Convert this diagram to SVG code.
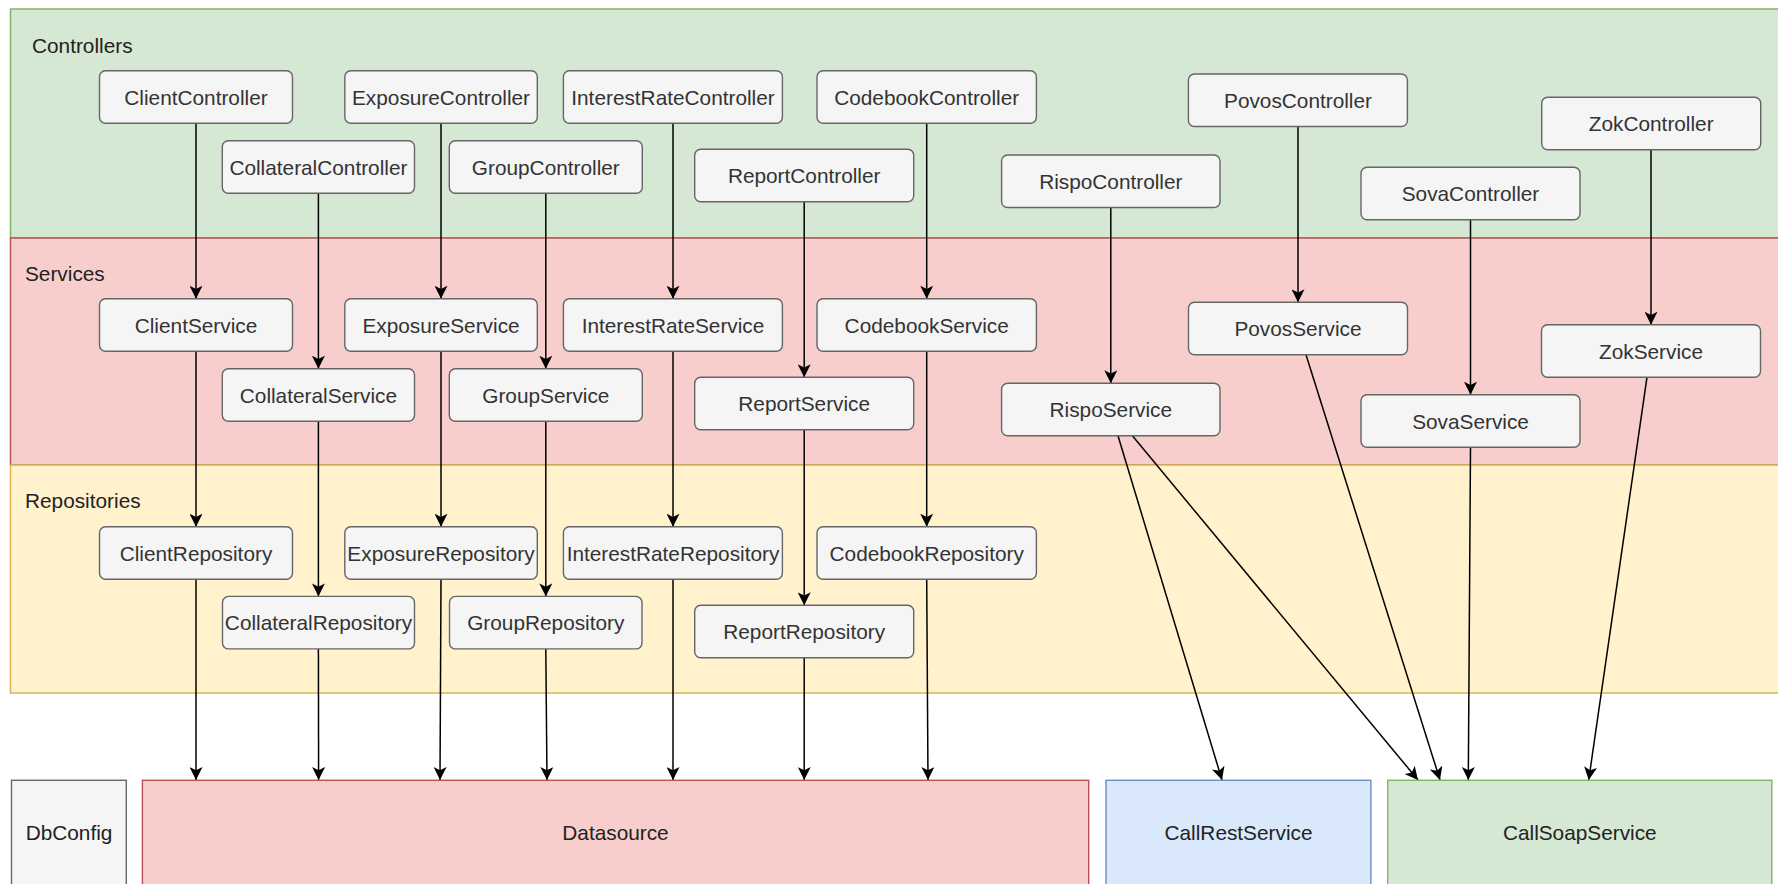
<svg xmlns="http://www.w3.org/2000/svg" width="1778" height="884" viewBox="0 0 1778 884">
<style>
.n{fill:#f5f5f5;stroke:#666666;stroke-width:1.4}
.t{font-family:"Liberation Sans",Arial,sans-serif;font-size:20.8px;fill:#333333;text-anchor:middle;dominant-baseline:central}
.lbl{font-family:"Liberation Sans",Arial,sans-serif;font-size:20.8px;fill:#222222;dominant-baseline:central}
.bt{font-family:"Liberation Sans",Arial,sans-serif;font-size:20.8px;fill:#222222;text-anchor:middle;dominant-baseline:central}
.e{fill:none;stroke:#000000;stroke-width:1.5;marker-end:url(#arr)}
</style>
<defs>
<marker id="arr" markerUnits="userSpaceOnUse" markerWidth="13" markerHeight="13" viewBox="0 0 12 12" refX="12" refY="6" orient="auto">
<path d="M0,0 L12,6 L0,12 L3,6 Z" fill="#000000"/>
</marker>
</defs>
<rect width="1778" height="884" fill="#ffffff"/>
<g id="bands">
<rect x="10.5" y="9" width="1790" height="229" fill="#d5e8d4" stroke="#82b366" stroke-width="1.5"/>
<rect x="10.5" y="238" width="1790" height="227" fill="#f8cecc" stroke="#b85450" stroke-width="1.5"/>
<rect x="10.5" y="465" width="1790" height="228" fill="#fff2cc" stroke="#d6b656" stroke-width="1.5"/>
<text class="lbl" x="32" y="45">Controllers</text>
<text class="lbl" x="25" y="273">Services</text>
<text class="lbl" x="25" y="500">Repositories</text>
</g>
<g id="connectors">
<line class="e" x1="196" y1="123.2" x2="196" y2="298.7"/>
<line class="e" x1="196" y1="351.2" x2="196" y2="526.7"/>
<line class="e" x1="196" y1="579.2" x2="196" y2="780"/>
<line class="e" x1="318.4" y1="193.2" x2="318.4" y2="368.7"/>
<line class="e" x1="318.4" y1="421.2" x2="318.4" y2="596.4"/>
<line class="e" x1="318.4" y1="648.9" x2="318.6" y2="780"/>
<line class="e" x1="441" y1="123.2" x2="441" y2="298.7"/>
<line class="e" x1="441" y1="351.2" x2="441" y2="526.7"/>
<line class="e" x1="441" y1="579.2" x2="440" y2="780"/>
<line class="e" x1="545.8" y1="193.2" x2="545.8" y2="368.7"/>
<line class="e" x1="545.8" y1="421.2" x2="545.8" y2="596.4"/>
<line class="e" x1="545.8" y1="648.9" x2="547" y2="780"/>
<line class="e" x1="673" y1="123.2" x2="673" y2="298.7"/>
<line class="e" x1="673" y1="351.2" x2="673" y2="526.7"/>
<line class="e" x1="673" y1="579.2" x2="673" y2="780"/>
<line class="e" x1="804.2" y1="201.8" x2="804.2" y2="377.3"/>
<line class="e" x1="804.2" y1="429.8" x2="804.2" y2="605.3"/>
<line class="e" x1="804.2" y1="657.8" x2="804.2" y2="780"/>
<line class="e" x1="926.7" y1="123.2" x2="926.7" y2="298.7"/>
<line class="e" x1="926.7" y1="351.2" x2="926.7" y2="526.7"/>
<line class="e" x1="926.7" y1="579.2" x2="928" y2="780"/>
<line class="e" x1="1110.8" y1="207.5" x2="1110.8" y2="383.3"/>
<line class="e" x1="1118" y1="435.8" x2="1222" y2="780"/>
<line class="e" x1="1132.4" y1="435.8" x2="1418" y2="780"/>
<line class="e" x1="1298" y1="126.5" x2="1298" y2="302.3"/>
<line class="e" x1="1306" y1="354.8" x2="1440" y2="780"/>
<line class="e" x1="1470.5" y1="219.8" x2="1470.5" y2="394.7"/>
<line class="e" x1="1470.5" y1="447.2" x2="1468.3" y2="780"/>
<line class="e" x1="1651" y1="149.8" x2="1651" y2="324.7"/>
<line class="e" x1="1647" y1="377.2" x2="1588.7" y2="780"/>
</g>
<g id="ClientController"><rect class="n" x="99.5" y="70.7" width="193" height="52.5" rx="6"/><text class="t" x="196" y="97">ClientController</text></g>
<g id="ExposureController"><rect class="n" x="344.8" y="70.7" width="192.5" height="52.5" rx="6"/><text class="t" x="441" y="97">ExposureController</text></g>
<g id="InterestRateController"><rect class="n" x="563.4" y="70.7" width="219" height="52.5" rx="6"/><text class="t" x="673" y="97">InterestRateController</text></g>
<g id="CodebookController"><rect class="n" x="817" y="70.7" width="219.4" height="52.5" rx="6"/><text class="t" x="926.7" y="97">CodebookController</text></g>
<g id="CollateralController"><rect class="n" x="222.3" y="140.7" width="192.2" height="52.5" rx="6"/><text class="t" x="318.4" y="167">CollateralController</text></g>
<g id="GroupController"><rect class="n" x="449.3" y="140.7" width="193" height="52.5" rx="6"/><text class="t" x="545.8" y="167">GroupController</text></g>
<g id="ReportController"><rect class="n" x="694.7" y="149.3" width="219" height="52.5" rx="6"/><text class="t" x="804.2" y="175.5">ReportController</text></g>
<g id="RispoController"><rect class="n" x="1001.6" y="155" width="218.4" height="52.5" rx="6"/><text class="t" x="1110.8" y="181.3">RispoController</text></g>
<g id="PovosController"><rect class="n" x="1188.4" y="74" width="219" height="52.5" rx="6"/><text class="t" x="1298" y="100.3">PovosController</text></g>
<g id="SovaController"><rect class="n" x="1361" y="167.3" width="219" height="52.5" rx="6"/><text class="t" x="1470.5" y="193.5">SovaController</text></g>
<g id="ZokController"><rect class="n" x="1541.7" y="97.3" width="219" height="52.5" rx="6"/><text class="t" x="1651.2" y="123.5">ZokController</text></g>
<g id="ClientService"><rect class="n" x="99.5" y="298.7" width="193" height="52.5" rx="6"/><text class="t" x="196" y="325">ClientService</text></g>
<g id="ExposureService"><rect class="n" x="344.8" y="298.7" width="192.5" height="52.5" rx="6"/><text class="t" x="441" y="325">ExposureService</text></g>
<g id="InterestRateService"><rect class="n" x="563.4" y="298.7" width="219" height="52.5" rx="6"/><text class="t" x="673" y="325">InterestRateService</text></g>
<g id="CodebookService"><rect class="n" x="817" y="298.7" width="219.4" height="52.5" rx="6"/><text class="t" x="926.7" y="325">CodebookService</text></g>
<g id="CollateralService"><rect class="n" x="222.3" y="368.7" width="192.2" height="52.5" rx="6"/><text class="t" x="318.4" y="395">CollateralService</text></g>
<g id="GroupService"><rect class="n" x="449.3" y="368.7" width="193" height="52.5" rx="6"/><text class="t" x="545.8" y="395">GroupService</text></g>
<g id="ReportService"><rect class="n" x="694.7" y="377.3" width="219" height="52.5" rx="6"/><text class="t" x="804.2" y="403.5">ReportService</text></g>
<g id="RispoService"><rect class="n" x="1001.6" y="383.3" width="218.4" height="52.5" rx="6"/><text class="t" x="1110.8" y="409.5">RispoService</text></g>
<g id="PovosService"><rect class="n" x="1188.5" y="302.3" width="219" height="52.5" rx="6"/><text class="t" x="1298" y="328.5">PovosService</text></g>
<g id="SovaService"><rect class="n" x="1361" y="394.7" width="219" height="52.5" rx="6"/><text class="t" x="1470.5" y="421">SovaService</text></g>
<g id="ZokService"><rect class="n" x="1541.5" y="324.7" width="219" height="52.5" rx="6"/><text class="t" x="1651" y="351">ZokService</text></g>
<g id="ClientRepository"><rect class="n" x="99.5" y="526.7" width="193" height="52.5" rx="6"/><text class="t" x="196" y="553">ClientRepository</text></g>
<g id="ExposureRepository"><rect class="n" x="344.8" y="526.7" width="192.5" height="52.5" rx="6"/><text class="t" x="441" y="553">ExposureRepository</text></g>
<g id="InterestRateRepository"><rect class="n" x="563.4" y="526.7" width="219" height="52.5" rx="6"/><text class="t" x="673" y="553">InterestRateRepository</text></g>
<g id="CodebookRepository"><rect class="n" x="817" y="526.7" width="219.4" height="52.5" rx="6"/><text class="t" x="926.7" y="553">CodebookRepository</text></g>
<g id="CollateralRepository"><rect class="n" x="222.5" y="596.4" width="192" height="52.5" rx="6"/><text class="t" x="318.5" y="622.7">CollateralRepository</text></g>
<g id="GroupRepository"><rect class="n" x="449.5" y="596.4" width="192.5" height="52.5" rx="6"/><text class="t" x="545.8" y="622.7">GroupRepository</text></g>
<g id="ReportRepository"><rect class="n" x="694.7" y="605.3" width="219" height="52.5" rx="6"/><text class="t" x="804.2" y="631.5">ReportRepository</text></g>
<g id="DbConfig"><rect x="11.5" y="780.3" width="114.8" height="120" fill="#f5f5f5" stroke="#666666" stroke-width="1.4"/><text class="bt" x="69" y="832">DbConfig</text></g>
<g id="Datasource"><rect x="142.4" y="780.3" width="946.3" height="120" fill="#f8cecc" stroke="#b85450" stroke-width="1.4"/><text class="bt" x="615.5" y="832">Datasource</text></g>
<g id="CallRestService"><rect x="1106" y="780.3" width="264.9" height="120" fill="#dae8fc" stroke="#6c8ebf" stroke-width="1.4"/><text class="bt" x="1238.5" y="832">CallRestService</text></g>
<g id="CallSoapService"><rect x="1387.7" y="780.3" width="384.1" height="120" fill="#d5e8d4" stroke="#82b366" stroke-width="1.4"/><text class="bt" x="1579.8" y="832">CallSoapService</text></g>
</svg>
